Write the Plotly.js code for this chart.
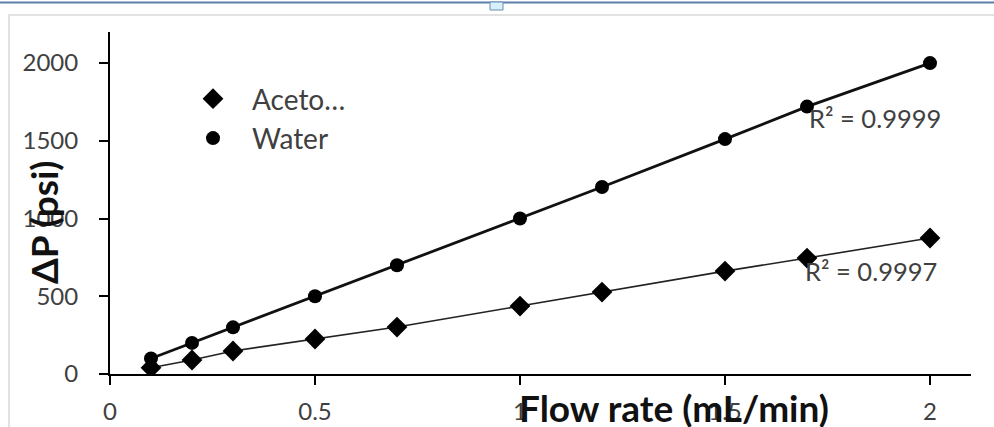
<!DOCTYPE html>
<html>
<head>
<meta charset="utf-8">
<script src="https://cdn.plot.ly/plotly-3.0.1.min.js"></script>
<style>html,body{margin:0;padding:0;background:#fff;}#chart{width:994px;height:427px;}</style>
</head>
<body>
<div id="chart"></div>
<script>
// Data
const flowRate = [0.1, 0.2, 0.3, 0.5, 0.7, 1.0, 1.2, 1.5, 1.7, 2.0];
const acetoDP  = [40, 90, 148, 225, 302, 437, 527, 662, 746, 875];
const waterDP  = [100, 200, 300, 500, 700, 1000, 1203, 1511, 1720, 2000];
const seriesNames = ["Aceto…", "Water"];
const r2Labels = ["R² = 0.9999", "R² = 0.9997"];
const xTicks = [0, 0.5, 1, 1.5, 2];
const yTicks = [0, 500, 1000, 1500, 2000];

const FONT = "Lato, 'Open Sans', sans-serif";
const L = 110, T = 32, W = 861, H = 342;
const px = x => (x - L) / W;
const py = y => (T + H - y) / H;

const traces = [
  {x: flowRate, y: waterDP, mode: 'lines', line: {color: '#111', width: 2.8}, showlegend: false, hoverinfo: 'skip'},
  {x: flowRate, y: acetoDP, mode: 'lines', line: {color: '#222', width: 1.6}, showlegend: false, hoverinfo: 'skip'},
  {x: flowRate, y: acetoDP, name: seriesNames[0], mode: 'markers',
   marker: {symbol: 'diamond', size: 16, color: '#000'}},
  {x: flowRate, y: waterDP, name: seriesNames[1], mode: 'markers',
   marker: {symbol: 'circle', size: 14, color: '#000'}}
];

const layout = {
  width: 994, height: 427,
  margin: {l: L, r: 994 - L - W, t: T, b: 427 - T - H},
  paper_bgcolor: '#fff', plot_bgcolor: '#fff',
  font: {family: FONT, color: '#404040', size: 24},
  showlegend: true,
  legend: {x: px(174), y: py(74), xanchor: 'left', yanchor: 'top', itemwidth: 68,
           font: {family: FONT, size: 28, color: '#404040'}, bgcolor: 'rgba(0,0,0,0)',
           tracegroupgap: 0},
  xaxis: {range: [0, 2.1], tickvals: xTicks, ticktext: xTicks.map(String),
          showline: true, linecolor: '#000', linewidth: 2, showgrid: false, zeroline: false,
          ticks: 'outside', ticklen: 9, tickwidth: 2, tickcolor: '#000',
          tickfont: {family: FONT, size: 24, color: '#404040'}, ticklabelstandoff: 6},
  yaxis: {range: [0, 2200], tickvals: yTicks, ticktext: yTicks.map(String),
          showline: true, linecolor: '#000', linewidth: 2, showgrid: false, zeroline: false,
          ticks: 'outside', ticklen: 9, tickwidth: 2, tickcolor: '#000',
          tickfont: {family: FONT, size: 24, color: '#404040'}, ticklabelstandoff: 16},
  annotations: [
    {text: '<b>ΔP (psi)</b>', textangle: -90, xref: 'paper', yref: 'paper',
     x: px(43), y: py(222), xanchor: 'center', yanchor: 'middle', showarrow: false,
     font: {family: FONT, size: 37, color: '#111'}},
    {text: '<b>Flow rate (mL/min)</b>', xref: 'paper', yref: 'paper',
     x: px(674), y: py(407), xanchor: 'center', yanchor: 'middle', showarrow: false,
     font: {family: FONT, size: 37, color: '#111'}},
    {text: r2Labels[0], xref: 'paper', yref: 'paper', x: px(875), y: py(118),
     xanchor: 'center', yanchor: 'middle', showarrow: false,
     font: {family: FONT, size: 25.5, color: '#404040'}},
    {text: r2Labels[1], xref: 'paper', yref: 'paper', x: px(871), y: py(271),
     xanchor: 'center', yanchor: 'middle', showarrow: false,
     font: {family: FONT, size: 25.5, color: '#404040'}}
  ],
  shapes: [
    {type: 'line', xref: 'paper', yref: 'paper', x0: px(0), x1: px(994), y0: py(2.5), y1: py(2.5),
     line: {color: '#5b7fa9', width: 2}},
    {type: 'line', xref: 'paper', yref: 'paper', x0: px(8), x1: px(994), y0: py(15), y1: py(15),
     line: {color: '#e2e2e2', width: 2}},
    {type: 'line', xref: 'paper', yref: 'paper', x0: px(9), x1: px(9), y0: py(15), y1: py(427),
     line: {color: '#e2e2e2', width: 2}},
    {type: 'rect', xref: 'paper', yref: 'paper', x0: px(490), x1: px(503), y0: py(2), y1: py(10),
     fillcolor: '#d6f1fa', line: {color: '#6b8db5', width: 1}}
  ]
};

Plotly.newPlot('chart', traces, layout, {displayModeBar: false, staticPlot: true});
</script>
</body>
</html>
